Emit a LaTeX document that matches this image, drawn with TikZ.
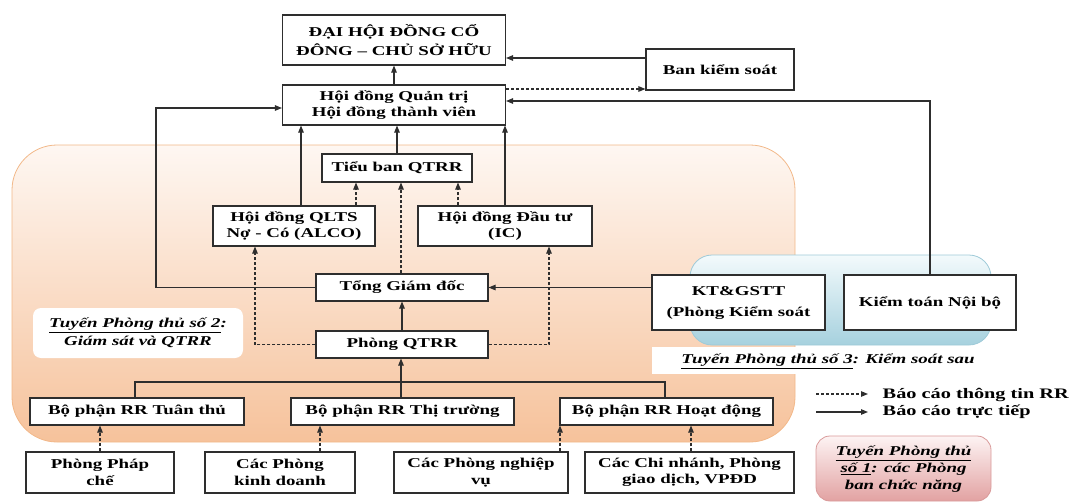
\documentclass[tikz,border=0pt]{standalone}
\usepackage{fontspec}
\setmainfont{Liberation Serif}[FakeStretch=1.4]
\usetikzlibrary{arrows.meta}
\definecolor{boxc}{HTML}{2E2E2E}
\definecolor{linec}{HTML}{2E2E2E}
\definecolor{orTop}{HTML}{FEF7F2}
\definecolor{orBot}{HTML}{F6C29B}
\definecolor{orEdge}{HTML}{F2B889}
\definecolor{blTop}{HTML}{F3FAFC}
\definecolor{blBot}{HTML}{A6D1DE}
\definecolor{blEdge}{HTML}{9ECAD8}
\definecolor{pkTop}{HTML}{FDF3F3}
\definecolor{pkBot}{HTML}{E2A2A2}
\definecolor{pkEdge}{HTML}{D99A9A}
\begin{document}
\begin{tikzpicture}[x=1pt,y=-1pt,
  box/.style={draw=boxc,line width=1.1pt,fill=white,inner sep=0pt,align=center,font=\fontsize{13.5}{16.5}\selectfont\bfseries},
  arr/.style={draw=linec,line width=1.05pt,-{Triangle[length=7pt,width=5.5pt]}},
  darr/.style={arr,dash pattern=on 3pt off 2pt},
  ln/.style={draw=linec,line width=1.05pt},
  lbl/.style={inner sep=0pt,align=center,font=\fontsize{13.5}{17}\selectfont\bfseries\itshape},
  leg/.style={inner sep=0pt,font=\fontsize{14.5}{16}\selectfont\bfseries},
]
\useasboundingbox (0,0) rectangle (1071,503);
% shaded regions
\path[rounded corners=45pt, draw=orEdge, line width=0.8pt, top color=orTop, bottom color=orBot] (12,145) rectangle (795,442);
\path[rounded corners=22pt, draw=blEdge, line width=0.8pt, top color=blTop, bottom color=blBot] (690,255) rectangle (991,345);
\fill[white] (652,347) rectangle (990,374);
\node[lbl] (tpt3) at (828,361) {\underline{Tuyến Phòng thủ số 3}: Kiểm soát sau};
\path[rounded corners=14pt, draw=pkEdge, line width=0.8pt, top color=pkTop, bottom color=pkBot] (816,436) rectangle (991,501);
\node[lbl] (tpt1) at (903.5,469) {\underline{Tuyến Phòng thủ}\\\underline{số 1}: các Phòng\\ban chức năng};
\node[lbl, fill=white, rounded corners=8pt, minimum width=210pt, minimum height=50pt, font=\fontsize{13.5}{18}\selectfont\bfseries\itshape] (tpt2) at (138,333) {\underline{Tuyến Phòng thủ số 2}:\\Giám sát và QTRR};

% boxes
\node[box,minimum width=223pt,minimum height=50pt,font=\fontsize{13.5}{19}\selectfont\bfseries] (dh) at (394,40) {ĐẠI HỘI ĐỒNG CỔ\\ĐÔNG – CHỦ SỞ HỮU};
\node[box,minimum width=223pt,minimum height=40pt] (hd) at (394,105) {Hội đồng Quản trị\\Hội đồng thành viên};
\node[box,minimum width=148pt,minimum height=41pt] (bks) at (720,69.5) {Ban kiểm soát};
\node[box,minimum width=150pt,minimum height=28pt] (tb) at (397,168) {Tiểu ban QTRR};
\node[box,minimum width=162pt,minimum height=40pt] (alco) at (294,226) {Hội đồng QLTS\\Nợ - Có (ALCO)};
\node[box,minimum width=174pt,minimum height=40pt] (ic) at (505,226) {Hội đồng Đầu tư\\(IC)};
\node[box,minimum width=172pt,minimum height=27pt] (tgd) at (402,287.5) {Tổng Giám đốc};
\node[box,minimum width=172pt,minimum height=27pt] (qtrr) at (402,344.5) {Phòng QTRR};
\node[box,minimum width=173pt,minimum height=55pt,font=\fontsize{13.5}{21}\selectfont\bfseries] (kt) at (738.5,302.5) {KT\&GSTT\\(Phòng Kiểm soát};
\node[box,minimum width=172pt,minimum height=55pt] (ktnb) at (930,302.5) {Kiểm toán Nội bộ};
\node[box,minimum width=214pt,minimum height=27pt] (tt) at (137,411.5) {Bộ phận RR Tuân thủ};
\node[box,minimum width=223pt,minimum height=27pt] (thi) at (402.5,411.5) {Bộ phận RR Thị trường};
\node[box,minimum width=213pt,minimum height=27pt] (hdg) at (666.5,411.5) {Bộ phận RR Hoạt động};
\node[box,minimum width=148pt,minimum height=41pt] (pc) at (100,472.5) {Phòng Pháp\\chế};
\node[box,minimum width=150pt,minimum height=41pt] (kd) at (280,472.5) {Các Phòng\\kinh doanh};
\node[box,minimum width=174pt,minimum height=41pt] (nv) at (481,472.5) {Các Phòng nghiệp\\vụ};
\node[box,minimum width=209pt,minimum height=41pt] (cn) at (689.5,472.5) {Các Chi nhánh, Phòng\\giao dịch, VPĐD};

% connectors
\coordinate (lx) at (156,0);
\coordinate (bus) at (0,382);
\draw[arr] (hd.north) -- (dh.south);
\draw[arr] ([yshift=11.5pt]bks.west) -- ([yshift=11.5pt]bks.west -| dh.east);
\draw[darr] ([yshift=16pt]hd.east) -- ([yshift=16pt]hd.east -| bks.west);
\draw[arr] (ktnb.north) |- ([yshift=4pt]hd.east);
\draw[arr] (tgd.west) -- (tgd.west -| lx) |- ([yshift=-3pt]hd.west);
\draw[arr] (tb.north) -- (tb.north |- hd.south);
\draw[arr] (alco.north -| 301,0) -- (hd.south -| 301,0);
\draw[arr] (ic.north -| 505,0) -- (hd.south -| 505,0);
\draw[darr] (alco.north -| 356,0) -- (tb.south -| 356,0);
\draw[darr] (ic.north -| 458,0) -- (tb.south -| 458,0);
\draw[darr] (tgd.north -| 401,0) -- (tb.south -| 401,0);
\draw[arr] (qtrr.north) -- (tgd.south);
\draw[darr] (qtrr.west) -| (alco.south -| 255,0);
\draw[darr] (qtrr.east) -| (ic.south -| 549,0);
\draw[arr] (kt.west |- tgd.east) -- (tgd.east);
\draw[arr] (thi.north -| 401,0) -- (qtrr.south -| 401,0);
\draw[ln] (tt.north -| 135,0) -- (bus -| 135,0) -- (bus -| 665,0) -- (hdg.north -| 665,0);
\draw[darr] (pc.north -| 100,0) -- (tt.south -| 100,0);
\draw[darr] (kd.north -| 320,0) -- (thi.south -| 320,0);
\draw[darr] (nv.north -| 560,0) -- (hdg.south -| 560,0);
\draw[darr] (cn.north -| 691,0) -- (hdg.south -| 691,0);

% legend
\coordinate (la1) at (816,394); \coordinate (la2) at (868,394);
\coordinate (lb1) at (816,412); \coordinate (lb2) at (868,412);
\draw[darr] (la1) -- (la2);
\draw[arr] (lb1) -- (lb2);
\node[leg, anchor=base east] (lg1) at (1069,398) {Báo cáo thông tin RR};
\node[leg, anchor=base west] (lg2) at (lg1.base west |- 0,415) {Báo cáo trực tiếp};
\end{tikzpicture}
\end{document}
